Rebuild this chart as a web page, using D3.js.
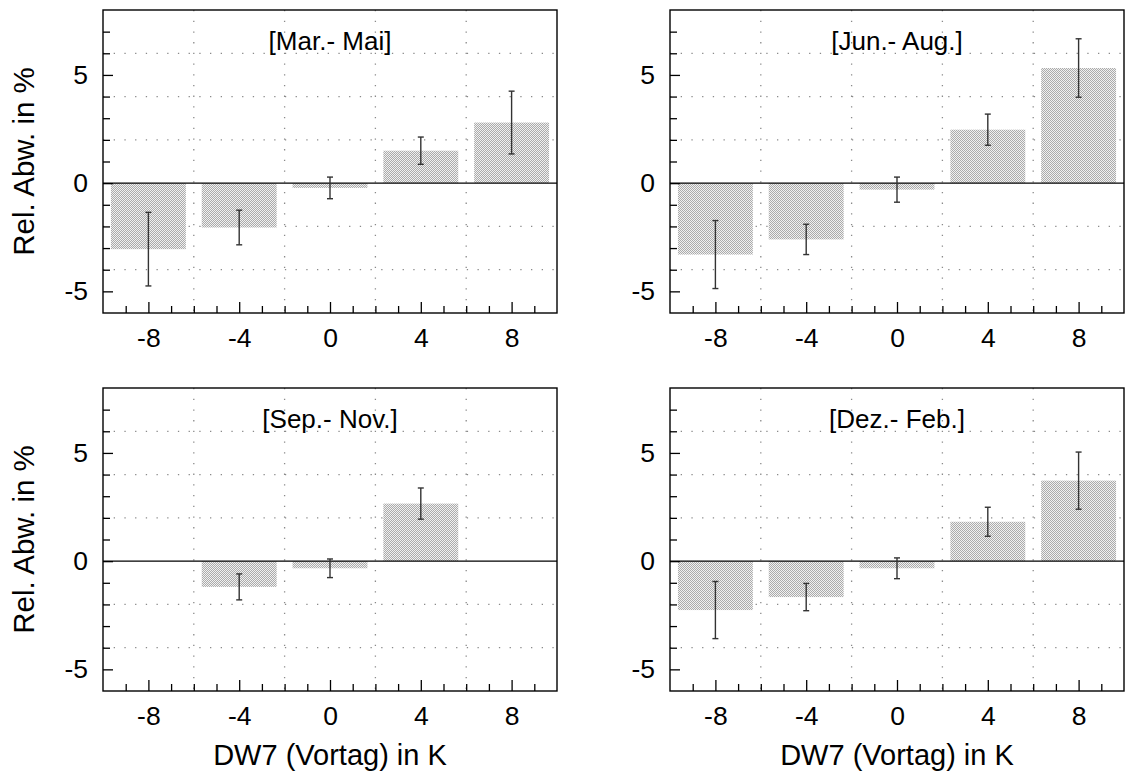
<!DOCTYPE html>
<html>
<head>
<meta charset="utf-8">
<script src="https://cdn.jsdelivr.net/npm/d3@7"></script>
<style>
  body { margin: 0; background: #fff; }
  svg { display: block; font-family: "Liberation Sans", Arial, sans-serif; }
</style>
</head>
<body>
<div id="chart"></div>
<script>
// bin centres (DW7 Vortag, K)
const bins = [-8, -4, 0, 4, 8]
const seasons = ['[Mar.- Mai]', '[Jun.- Aug.]', '[Sep.- Nov.]', '[Dez.- Feb.]']

// relative deviation in % and error half-widths per season
const marMai = [-3.05, -2.05, -0.22, 1.5, 2.8]
const marMaiErr = [1.7, 0.8, 0.5, 0.63, 1.45]
const junAug = [-3.3, -2.6, -0.3, 2.47, 5.32]
const junAugErr = [1.57, 0.7, 0.58, 0.72, 1.35]
const sepNov = [null, -1.19, -0.33, 2.66, null]
const sepNovErr = [null, 0.6, 0.43, 0.72, null]
const dezFeb = [-2.26, -1.66, -0.33, 1.82, 3.72]
const dezFebErr = [1.32, 0.63, 0.48, 0.67, 1.32]

const yMajor = [-5, 0, 5]
const xMajor = [-8, -4, 0, 4, 8]
const yGrid = [-4, -2, 2, 4, 6]
const xGrid = [-6, -2, 2, 6]

const values = [marMai, junAug, sepNov, dezFeb]
const errors = [marMaiErr, junAugErr, sepNovErr, dezFebErr]

const W = 1125, H = 774
const pw = 454, ph = 303
const panels = [
  { left: 103, top: 10, col: 0, row: 0 },
  { left: 670, top: 10, col: 1, row: 0 },
  { left: 103, top: 388, col: 0, row: 1 },
  { left: 670, top: 388, col: 1, row: 1 }
]

const svg = d3.select('#chart').append('svg')
  .attr('width', W)
  .attr('height', H)

svg.append('rect').attr('width', W).attr('height', H).attr('fill', '#fff')

// dithered grey fill like the original
const pat = svg.append('defs').append('pattern')
  .attr('id', 'dither')
  .attr('width', 2).attr('height', 2)
  .attr('patternUnits', 'userSpaceOnUse')
pat.append('rect').attr('width', 2).attr('height', 2).attr('fill', '#f0f0f0')
pat.append('rect').attr('width', 1).attr('height', 1).attr('fill', '#ababab')
pat.append('rect').attr('x', 1).attr('y', 1).attr('width', 1).attr('height', 1).attr('fill', '#ababab')

const x = d3.scaleLinear().domain([-10, 10]).range([0, pw])
const y = d3.scaleLinear().domain([-6, 8]).range([ph, 0])
const halfBar = 1.65
const fmt = d => String(d)   // plain hyphen minus, as in the original

panels.forEach((p, i) => {
  const g = svg.append('g').attr('transform', 'translate(' + p.left + ',' + p.top + ')')

  // dotted grid
  g.selectAll('.hgrid').data(yGrid).enter().append('line')
    .attr('x1', 0).attr('x2', pw)
    .attr('y1', d => y(d)).attr('y2', d => y(d))
    .attr('stroke', '#8a8a8a').attr('stroke-width', 1.3)
    .attr('stroke-dasharray', '1.3,9.4')
  g.selectAll('.vgrid').data(xGrid).enter().append('line')
    .attr('y1', 0).attr('y2', ph)
    .attr('x1', d => x(d)).attr('x2', d => x(d))
    .attr('stroke', '#8a8a8a').attr('stroke-width', 1.3)
    .attr('stroke-dasharray', '1.3,9.4')

  const data = bins.map((b, j) => ({ bin: b, v: values[i][j], e: errors[i][j] }))
    .filter(d => d.v !== null)

  // bars
  g.selectAll('.bar').data(data).enter().append('rect')
    .attr('x', d => x(d.bin - halfBar))
    .attr('width', d => x(d.bin + halfBar) - x(d.bin - halfBar))
    .attr('y', d => y(Math.max(0, d.v)))
    .attr('height', d => Math.abs(y(d.v) - y(0)))
    .attr('fill', 'url(#dither)')

  // zero line
  g.append('line')
    .attr('x1', 0).attr('x2', pw)
    .attr('y1', y(0)).attr('y2', y(0))
    .attr('stroke', '#000').attr('stroke-width', 1.2)

  // error bars
  const eb = g.selectAll('.err').data(data).enter().append('g')
    .attr('stroke', '#333').attr('stroke-width', 1.4)
  eb.append('line')
    .attr('x1', d => x(d.bin)).attr('x2', d => x(d.bin))
    .attr('y1', d => y(d.v + d.e)).attr('y2', d => y(d.v - d.e))
  eb.append('line')
    .attr('x1', d => x(d.bin) - 3).attr('x2', d => x(d.bin) + 3)
    .attr('y1', d => y(d.v + d.e)).attr('y2', d => y(d.v + d.e))
  eb.append('line')
    .attr('x1', d => x(d.bin) - 3).attr('x2', d => x(d.bin) + 3)
    .attr('y1', d => y(d.v - d.e)).attr('y2', d => y(d.v - d.e))

  // y ticks, inward
  const yMinor = d3.range(-5, 8).filter(v => !yMajor.includes(v))
  g.append('g').call(d3.axisLeft(y).tickValues(yMinor).tickSize(-7).tickFormat(''))
  g.append('g').call(d3.axisLeft(y).tickValues(yMajor).tickSize(-10).tickPadding(15).tickFormat(fmt))

  // x ticks, inward
  const xMinor = d3.range(-9, 10).filter(v => !xMajor.includes(v))
  g.append('g').attr('transform', 'translate(0,' + ph + ')')
    .call(d3.axisBottom(x).tickValues(xMinor).tickSize(-7).tickFormat(''))
  g.append('g').attr('transform', 'translate(0,' + ph + ')')
    .call(d3.axisBottom(x).tickValues(xMajor).tickSize(-11).tickPadding(15).tickFormat(fmt))

  g.selectAll('.domain').remove()
  g.selectAll('.tick line').attr('stroke', '#000').attr('stroke-width', 1.3)
  g.selectAll('.tick text').attr('fill', '#000').style('font-size', '26.5px')
    .style('font-family', '"Liberation Sans", Arial, sans-serif')

  // frame
  g.append('rect')
    .attr('width', pw).attr('height', ph)
    .attr('fill', 'none').attr('stroke', '#000').attr('stroke-width', 1.4)

  // season title
  g.append('text')
    .attr('x', pw / 2).attr('y', 40)
    .attr('text-anchor', 'middle')
    .style('font-size', '26px')
    .text(seasons[i])

  if (p.col === 0) {
    g.append('text')
      .attr('transform', 'translate(' + (34 - p.left) + ',' + ph / 2 + ') rotate(-90)')
      .attr('text-anchor', 'middle')
      .style('font-size', '29.5px')
      .text('Rel. Abw. in %')
  }
  if (p.row === 1) {
    g.append('text')
      .attr('x', pw / 2).attr('y', 765 - p.top)
      .attr('text-anchor', 'middle')
      .style('font-size', '29px')
      .text('DW7 (Vortag) in K')
  }
})
</script>
</body>
</html>
